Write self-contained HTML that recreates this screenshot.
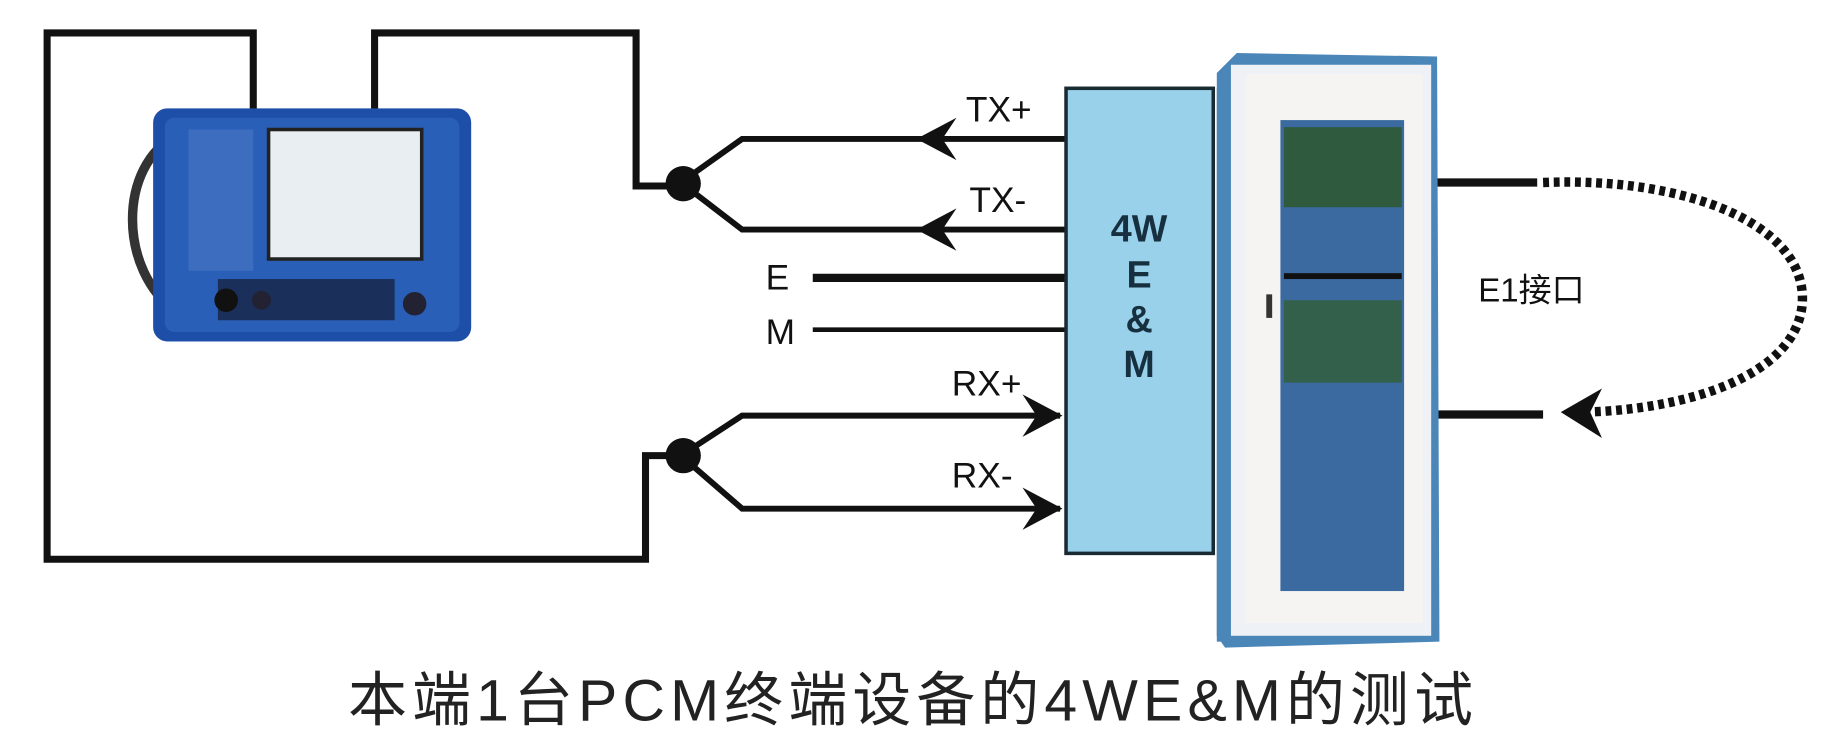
<!DOCTYPE html>
<html><head><meta charset="utf-8"><style>
html,body{margin:0;padding:0;background:#fff;}
svg{display:block}
text{font-family:"Liberation Sans","Noto Sans CJK SC",sans-serif;}
</style></head><body>
<svg width="1847" height="750" viewBox="0 0 1568 637" preserveAspectRatio="none" xmlns="http://www.w3.org/2000/svg">
<rect width="1568" height="637" fill="#fff"/>
<g fill="none" stroke="#111" stroke-width="6" stroke-linejoin="miter">
<polyline points="215,95 215,28 40,28 40,475 548,475 548,387 578,387"/>
<polyline points="318,95 318,28 540,28 540,158 578,158"/>
</g>
<g fill="none" stroke="#111" stroke-width="5">
<polyline points="578,155 630,118 905,118"/>
<polyline points="578,155 630,195 905,195"/>
<polyline points="578,387 630,353 900,353"/>
<polyline points="578,387 630,432 900,432"/>
<line x1="690" y1="236" x2="905" y2="236" stroke-width="7"/>
<line x1="690" y1="280" x2="905" y2="280" stroke-width="4"/>
<line x1="1215" y1="155" x2="1305" y2="155" stroke-width="7"/>
<line x1="1215" y1="352" x2="1310" y2="352" stroke-width="7"/>
</g>
<circle cx="580" cy="156" r="15" fill="#111"/>
<circle cx="580" cy="387" r="15" fill="#111"/>
<g fill="#111">
<path d="M778,118 L812,100 L800,118 L812,136 Z"/>
<path d="M778,195 L812,177 L800,195 L812,213 Z"/>
<path d="M902,353 L868,335 L880,353 L868,371 Z"/>
<path d="M902,432 L868,414 L880,432 L868,450 Z"/>
<path d="M1325,350 L1360,330 L1350,350 L1360,372 Z"/>
</g>
<path d="M1310,155 C1430,150 1535,190 1530,258 C1525,320 1430,348 1345,350" fill="none" stroke="#111" stroke-width="8" stroke-dasharray="5,4"/>
<g font-size="30" fill="#111">
<text x="820" y="103">TX+</text>
<text x="823" y="180">TX-</text>
<text x="650" y="246">E</text>
<text x="650" y="292">M</text>
<text x="808" y="336">RX+</text>
<text x="808" y="414">RX-</text>
<text x="1255" y="256" font-size="28">E1接口</text>
</g>
<polygon points="1033,62 1050,45 1220,48 1222,545 1040,550 1033,540" fill="#4a86b8"/>
<rect x="1045" y="55" width="170" height="485" fill="#eef1f5"/>
<rect x="1058" y="63" width="150" height="466" fill="#f6f4f2"/>
<rect x="1087" y="102" width="105" height="400" fill="#3a6aa0"/>
<rect x="1090" y="108" width="100" height="68" fill="#2f5a3e"/>
<rect x="1090" y="255" width="100" height="70" fill="#33604a"/>
<rect x="1090" y="232" width="100" height="5" fill="#111"/>
<rect x="1075" y="250" width="5" height="20" fill="#333"/>
<rect x="1033" y="75" width="6" height="470" fill="#4a86b8"/>
<rect x="905" y="75" width="125" height="395" fill="#99d0ea" stroke="#1a2a33" stroke-width="3"/>
<g font-size="32" fill="#163040" text-anchor="middle" font-weight="bold">
<text x="967" y="205">4W</text>
<text x="967" y="244">E</text>
<text x="967" y="282">&amp;</text>
<text x="967" y="320">M</text>
</g>
<path d="M150,115 C100,140 100,230 150,265" fill="none" stroke="#333" stroke-width="8"/>
<rect x="130" y="92" width="270" height="198" rx="12" fill="#1e4fa8"/>
<rect x="140" y="100" width="250" height="182" rx="8" fill="#2a5fb8"/>
<rect x="160" y="110" width="55" height="120" fill="#3d6dbf"/>
<rect x="228" y="110" width="130" height="110" fill="#e9eef3" stroke="#222" stroke-width="3"/>
<rect x="185" y="237" width="150" height="35" fill="#1a2f5a"/>
<circle cx="192" cy="255" r="10" fill="#111"/>
<circle cx="222" cy="255" r="8" fill="#223"/>
<circle cx="352" cy="258" r="10" fill="#223"/>
<text x="773" y="612" font-size="50" textLength="955" lengthAdjust="spacing" fill="#222" text-anchor="middle" font-family="'Liberation Sans','Noto Sans CJK SC',sans-serif">本端1台PCM终端设备的4WE&amp;M的测试</text>
</svg>
</body></html>
